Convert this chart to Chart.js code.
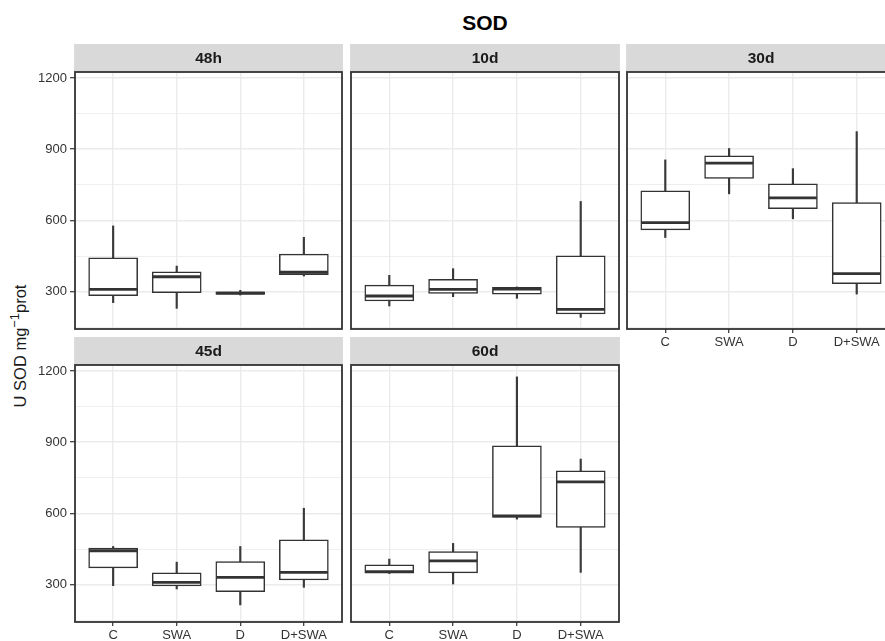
<!DOCTYPE html>
<html>
<head>
<meta charset="utf-8">
<script src="https://cdn.jsdelivr.net/npm/chart.js@4.4.1/dist/chart.umd.min.js"></script>
<style>
  html, body { margin: 0; padding: 0; width: 885px; height: 641px; overflow: hidden; background: #fff; }
  canvas { position: absolute; }
  #title {
    position: absolute; left: 385px; width: 200px; top: 12px; text-align: center;
    font: bold 21px "Liberation Sans", Arial, sans-serif; line-height: 21px; color: #000;
  }
  #ytitle {
    position: absolute; left: 20px; top: 346px; white-space: nowrap;
    transform: translate(-50%, -50%) rotate(-90deg);
    font: 16.5px "Liberation Sans", Arial, sans-serif; line-height: 1; color: #1a1a1a;
  }
  #ytitle sup { font-size: 0.78em; vertical-align: 0.5em; line-height: 0; }
</style>
</head>
<body>
<div id="title">SOD</div>
<div id="ytitle">U SOD mg<sup>−1</sup>prot</div>
<script>
// Treatments on the x axis of every facet, and the sampling times (facets)
const categories = ['C', 'SWA', 'D', 'D+SWA'];
const panels = ['48h', '10d', '30d', '45d', '60d'];

// Box-plot statistics, one row per facet (same order as panels), one value per treatment
const whiskerLow  = [
  [254, 230, 286, 366],
  [240, 279, 272, 192],
  [528, 712, 607, 290],
  [296, 282, 215, 289],
  [347, 303, 576, 352]
];
const q1 = [
  [283, 296, 289, 372],
  [261, 293, 290, 206],
  [560, 777, 650, 334],
  [371, 295, 271, 320],
  [349, 350, 583, 541]
];
const median = [
  [310, 363, 294, 382],
  [282, 310, 311, 226],
  [591, 841, 695, 376],
  [443, 310, 331, 352],
  [355, 400, 590, 733]
];
const q3 = [
  [443, 384, 300, 458],
  [328, 352, 318, 451],
  [725, 872, 754, 675],
  [454, 350, 397, 489],
  [384, 440, 885, 779]
];
const whiskerHigh = [
  [577, 408, 306, 529],
  [369, 397, 320, 680],
  [855, 903, 818, 974],
  [461, 395, 461, 622],
  [408, 474, 1175, 829]
];

// Shared y axis: grid at every 150, labels at every 300
const yTicks = [150, 300, 450, 600, 750, 900, 1050, 1200];
const yLabelled = [300, 600, 900, 1200];
const yRange = [143, 1225];

// Facet grid geometry (pixels)
const colLeft = [75, 351, 627];
const colWidth = [267, 268, 268];
const rowTop = [72, 365];
const rowHeight = 257;
const stripH = 28;
const yAxisW = 45;
const xAxisH = 24;
const FONT = '"Liberation Sans", Arial, sans-serif';

// Strip above each panel and the dark panel frame
const facetFrame = {
  id: 'facetFrame',
  afterDraw(chart, args, opts) {
    const { ctx, chartArea: a } = chart;
    ctx.save();
    ctx.fillStyle = '#d9d9d9';
    ctx.fillRect(a.left - 0.9, a.top - opts.stripH, a.right - a.left + 1.8, opts.stripH);
    ctx.fillStyle = '#1a1a1a';
    ctx.font = 'bold 15.5px ' + FONT;
    ctx.textAlign = 'center';
    ctx.textBaseline = 'middle';
    ctx.fillText(opts.label, (a.left + a.right) / 2, a.top - opts.stripH / 2 + 1);
    ctx.strokeStyle = '#333333';
    ctx.lineWidth = 1.8;
    ctx.strokeRect(a.left, a.top, a.right - a.left, a.bottom - a.top);
    ctx.restore();
  }
};

function makePanel(i) {
  const row = Math.floor(i / 3), col = i % 3;
  const showY = col === 0;
  const showX = i + 3 >= panels.length;   // no facet below -> draw the x axis
  const padL = showY ? 0 : 4, padR = 4;
  const axisW = showY ? yAxisW : 0;
  const left = colLeft[col] - (showY ? yAxisW : padL);
  const top = rowTop[row] - stripH;
  const w = (showY ? yAxisW : padL) + colWidth[col] + padR;
  const h = stripH + rowHeight + xAxisH;

  const cv = document.createElement('canvas');
  cv.width = w; cv.height = h;
  cv.style.left = left + 'px'; cv.style.top = top + 'px';
  cv.style.width = w + 'px'; cv.style.height = h + 'px';
  document.body.appendChild(cv);

  const pts = f => categories.map((c, j) => ({ x: j + 1, y: f(j) }));

  new Chart(cv, {
    type: 'bar',
    data: {
      datasets: [
        {
          type: 'line', label: 'median', order: 0,
          data: pts(j => median[i][j]),
          showLine: false, pointStyle: 'line',
          pointRadius: 24, pointHoverRadius: 24,
          pointBorderWidth: 2.8, pointHoverBorderWidth: 2.8,
          pointBorderColor: '#333333', pointBackgroundColor: '#333333', borderColor: '#333333'
        },
        {
          label: 'box', order: 1,
          data: pts(j => [q1[i][j], q3[i][j]]),
          backgroundColor: '#ffffff', borderColor: '#333333', borderWidth: 1.5,
          borderSkipped: false, barThickness: 49, grouped: false
        },
        {
          label: 'whisker', order: 2,
          data: pts(j => [whiskerLow[i][j], whiskerHigh[i][j]]),
          backgroundColor: '#3a3a3a', borderWidth: 0,
          barThickness: 1.5, grouped: false
        }
      ]
    },
    options: {
      responsive: false, maintainAspectRatio: false, animation: false,
      devicePixelRatio: 1, events: [],
      layout: {
        autoPadding: false,
        padding: { top: stripH, left: padL, right: padR, bottom: showX ? 0 : xAxisH }
      },
      plugins: {
        legend: { display: false }, tooltip: { enabled: false }, title: { display: false },
        facetFrame: { label: panels[i], stripH: stripH }
      },
      scales: {
        x: {
          type: 'linear', min: 0.4, max: 4.6, offset: false,
          afterBuildTicks: s => { s.ticks = categories.map((c, j) => ({ value: j + 1 })); },
          afterFit: s => { s.height = showX ? xAxisH : 0; },
          ticks: {
            display: showX, autoSkip: false, maxRotation: 0, padding: 2,
            callback: v => categories[v - 1],
            color: '#333333', font: { family: FONT, size: 13 }
          },
          grid: {
            color: '#ebebeb', lineWidth: 1.4, offset: false,
            drawTicks: showX, tickLength: 4, tickColor: '#333333', tickWidth: 1.2
          },
          border: { display: false }
        },
        y: {
          min: yRange[0], max: yRange[1],
          afterBuildTicks: s => { s.ticks = yTicks.map(v => ({ value: v })); },
          afterFit: s => { s.width = axisW; },
          ticks: {
            display: showY, padding: 3,
            callback: v => (yLabelled.includes(v) ? String(v) : ''),
            color: '#333333', font: { family: FONT, size: 13 }
          },
          grid: {
            color: '#ebebeb',
            lineWidth: c => (yLabelled.includes(c.tick && c.tick.value) ? 1.4 : 0.8),
            drawTicks: showY, tickLength: 5, tickWidth: 1.2,
            tickColor: c => (yLabelled.includes(c.tick && c.tick.value) ? '#333333' : 'rgba(0,0,0,0)')
          },
          border: { display: false }
        }
      }
    },
    plugins: [facetFrame]
  });
}

panels.forEach((p, i) => makePanel(i));
</script>
</body>
</html>
